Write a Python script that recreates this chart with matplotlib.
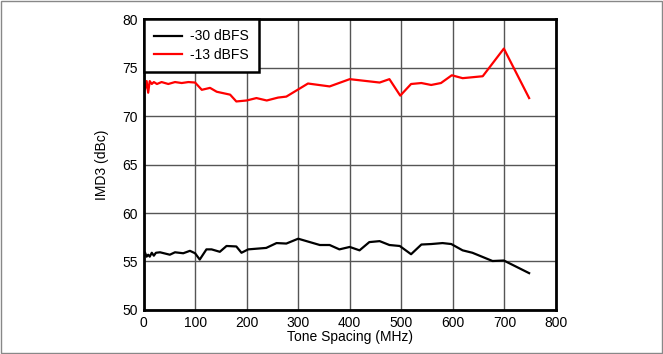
import matplotlib.pyplot as plt
from matplotlib.patches import Rectangle

plt.rcParams['font.family'] = ['Liberation Sans', 'DejaVu Sans']

# -13 dBFS trace
x_13 = [3, 6, 9, 12, 16, 20, 26, 35, 48, 61, 74, 87, 100, 113, 129, 142, 168, 180,
        200, 219, 239, 261, 277, 319, 361, 400, 458, 477, 498, 519, 539, 558, 577,
        598, 619, 658, 699, 748]
y_13 = [72.8, 73.6, 72.4, 73.6, 73.3, 73.5, 73.3, 73.5, 73.3, 73.5, 73.4, 73.5,
        73.45, 72.7, 72.9, 72.5, 72.2, 71.5, 71.6, 71.85, 71.6, 71.9, 72.0, 73.35,
        73.05, 73.8, 73.45, 73.8, 72.1, 73.3, 73.4, 73.2, 73.4, 74.2, 73.9, 74.1,
        76.95, 71.85]

# -30 dBFS trace
x_30 = [3, 6, 9, 12, 16, 20, 24, 32, 51, 61, 77, 90, 100, 109, 122, 132, 148, 161,
        180, 190, 203, 238, 258, 277, 300, 342, 361, 380, 400, 419, 438, 458, 477,
        497, 519, 539, 558, 580, 597, 619, 638, 677, 699, 748]
y_30 = [55.9, 55.5, 55.7, 55.5, 55.9, 55.6, 55.9, 55.95, 55.7, 55.95, 55.85, 56.1,
        55.85, 55.2, 56.25, 56.25, 56.0, 56.6, 56.55, 55.9, 56.25, 56.4, 56.9, 56.85,
        57.35, 56.7, 56.7, 56.25, 56.5, 56.15, 57.0, 57.1, 56.7, 56.6, 55.75, 56.75,
        56.8, 56.9, 56.8, 56.15, 55.9, 55.05, 55.1, 53.8]

fig = plt.figure(figsize=(6.63, 3.54), dpi=100)
ax = fig.add_axes([0.2165, 0.1243, 0.622, 0.822])

ax.plot(x_30, y_30, color='black', lw=1.6, label='-30 dBFS')
ax.plot(x_13, y_13, color='#ff0000', lw=1.6, label='-13 dBFS')

ax.set_xlim(0, 800)
ax.set_ylim(50, 80)
ax.set_xticks(range(0, 801, 100))
ax.set_yticks(range(50, 81, 5))
ax.grid(True, color='#555555', lw=1.0)
ax.set_axisbelow(True)
for s in ax.spines.values():
    s.set_linewidth(2)
ax.tick_params(length=0, labelsize=10, pad=4)
ax.set_xlabel('Tone Spacing (MHz)', fontsize=10, labelpad=0)
ax.set_ylabel('IMD3 (dBc)', fontsize=10, labelpad=10)

leg = ax.legend(loc='upper left', borderaxespad=0, fancybox=False, fontsize=10,
                handlelength=2.0, handletextpad=0.6, framealpha=1,
                borderpad=0.75, labelspacing=0.3)
leg.get_frame().set_edgecolor('black')
leg.get_frame().set_linewidth(1.8)

fig.patches.append(Rectangle((0.001, 0.002), 0.997, 0.995, transform=fig.transFigure,
                             fill=False, edgecolor='#888888', lw=1))

fig.savefig('out.png', dpi=100)
